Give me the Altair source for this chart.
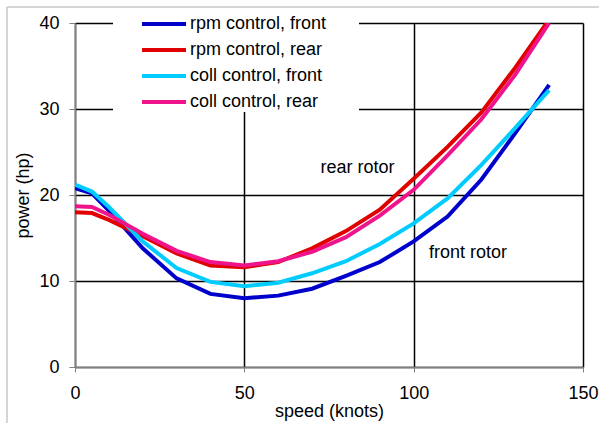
import altair as alt
import pandas as pd

speed = [0, 5, 10, 20, 30, 40, 50, 60, 70, 80, 90, 100, 110, 120, 130, 140]
rpm_front = [20.8, 20.2, 18.2, 13.8, 10.3, 8.5, 8.0, 8.3, 9.1, 10.6, 12.2, 14.6, 17.5, 21.8, 27.2, 32.8]
rpm_rear = [18.0, 17.9, 17.1, 15.2, 13.2, 11.8, 11.6, 12.2, 13.8, 15.8, 18.3, 21.9, 25.6, 29.6, 34.8, 40.4]
coll_front = [21.2, 20.4, 18.6, 14.6, 11.5, 9.9, 9.4, 9.8, 10.9, 12.3, 14.3, 16.7, 19.6, 23.5, 27.8, 32.2]
coll_rear = [18.7, 18.6, 17.7, 15.5, 13.5, 12.2, 11.8, 12.3, 13.4, 15.1, 17.6, 20.6, 24.6, 28.8, 34.0, 40.0]

series_names = ["rpm control, front", "rpm control, rear", "coll control, front", "coll control, rear"]
series_colors = ["#0000CC", "#E00000", "#00CCFF", "#F0148C"]
series_values = [rpm_front, rpm_rear, coll_front, coll_rear]

x_ticks = [0, 50, 100, 150]
y_ticks = [0, 10, 20, 30, 40]

note_text = ["rear rotor", "front rotor"]
note_speed = [72.5, 104.5]
note_power = [23.1, 13.3]

rows = []
for name, vals in zip(series_names, series_values):
    for s, v in zip(speed, vals):
        rows.append({"series": name, "speed": s, "power": v})
df = pd.DataFrame(rows)
notes = pd.DataFrame({"text": note_text, "speed": note_speed, "power": note_power})

FONT = "Liberation Sans"

x_enc = alt.X(
    "speed:Q",
    scale=alt.Scale(domain=[0, 150], nice=False, zero=False),
    axis=alt.Axis(
        values=x_ticks, title="speed (knots)", grid=True, gridColor="black", gridWidth=1.5,
        domainColor="#808080", domainWidth=1.5, tickColor="#808080", tickSize=5,
        labelFont=FONT, labelFontSize=18, labelColor="black", labelPadding=12,
        labelFlush=False, labelOverlap=False,
        titleFont=FONT, titleFontSize=18, titleFontWeight="normal", titleColor="black",
        titlePadding=0,
    ),
)
y_enc = alt.Y(
    "power:Q",
    scale=alt.Scale(domain=[0, 40], nice=False),
    axis=alt.Axis(
        values=y_ticks, title="power (hp)", grid=True, gridColor="black", gridWidth=1.5,
        domainColor="#808080", domainWidth=1.5, tickColor="#808080", tickSize=6,
        labelFont=FONT, labelFontSize=18, labelColor="black", labelPadding=10,
        labelFlush=False, labelOverlap=False,
        titleFont=FONT, titleFontSize=18, titleFontWeight="normal", titleColor="black",
        titlePadding=6,
    ),
)

# white box behind the legend, hiding the grid there
legend_box = alt.Chart(notes).mark_rect(color="white").encode(
    x=alt.value(38), x2=alt.value(284), y=alt.value(-15), y2=alt.value(89)
)

lines = alt.Chart(df).mark_line(strokeWidth=4, clip=True).encode(
    x=x_enc,
    y=y_enc,
    color=alt.Color(
        "series:N",
        scale=alt.Scale(domain=series_names, range=series_colors),
        legend=alt.Legend(
            orient="none", legendX=71, legendY=-17, title=None,
            symbolType="M-2,0H2", symbolSize=484, symbolStrokeWidth=4,
            labelFont=FONT, labelFontSize=18, labelColor="black", labelLimit=400,
            labelOffset=13, padding=5, rowPadding=4,
        ),
    ),
    order=alt.Order("speed:Q"),
)

text = alt.Chart(notes).mark_text(
    align="left", baseline="middle", font=FONT, fontSize=18, color="black"
).encode(x="speed:Q", y="power:Q", text="text:N")

frame_top = alt.Chart(notes).mark_rule(color="#c8c8c8", strokeWidth=1).encode(
    x=alt.value(-68), x2=alt.value(540), y=alt.value(-16)
)
frame_left = alt.Chart(notes).mark_rule(color="#c8c8c8", strokeWidth=1).encode(
    x=alt.value(-68), y=alt.value(-16), y2=alt.value(420)
)

chart = alt.layer(legend_box, lines, text, frame_top, frame_left).properties(
    width=508, height=344,
    padding={"left": 75, "top": 23, "right": 16, "bottom": 56},
    autosize=alt.AutoSizeParams(type="none"),
    background="white",
).configure_view(stroke=None)

chart.save("out.html", embed_options={"renderer": "svg", "actions": False})
